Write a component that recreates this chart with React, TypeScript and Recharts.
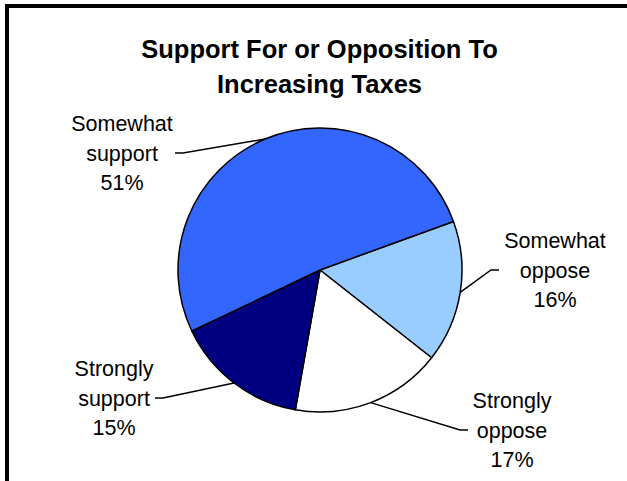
import { PieChart, Pie, Cell } from 'recharts';

const CATEGORIES = ['Somewhat oppose', 'Strongly oppose', 'Strongly support', 'Somewhat support'];
const VALUES = [16, 17, 15, 51];
const LABEL_LINES = [
  ['Somewhat', 'oppose'],
  ['Strongly', 'oppose'],
  ['Strongly', 'support'],
  ['Somewhat', 'support'],
];
const COLORS = ['#99CCFF', '#FFFFFF', '#000080', '#3366FF'];

// where each label sits (center x, middle line y) and where its leader line ends
const LABEL_POS = [
  { x: 555, y: 270, lineX: 499 },
  { x: 512, y: 430, lineX: 468 },
  { x: 114, y: 398, lineX: 155 },
  { x: 122, y: 153, lineX: 175 },
];

const FONT = '"Liberation Sans", Arial, sans-serif';
const RAD = Math.PI / 180;

const data = CATEGORIES.map((name, i) => ({ name, value: VALUES[i] }));

const renderLabel = (props: any) => {
  const { cx, cy, midAngle, outerRadius, index } = props;
  const pos = LABEL_POS[index];
  const sx = cx + outerRadius * Math.cos(-midAngle * RAD);
  const sy = cy + outerRadius * Math.sin(-midAngle * RAD);
  const dir = pos.lineX > pos.x ? 1 : -1;
  const elbowX = pos.lineX + dir * 8;
  const lines = [...LABEL_LINES[index], `${VALUES[index]}%`];
  return (
    <g key={`label-${index}`}>
      <polyline
        points={`${sx},${sy} ${elbowX},${pos.y} ${pos.lineX},${pos.y}`}
        fill="none"
        stroke="#000"
        strokeWidth={1.5}
      />
      <text textAnchor="middle" fontSize={21.5} fill="#000" fontFamily={FONT}>
        {lines.map((t, i) => (
          <tspan key={i} x={pos.x} y={pos.y + (i - 1) * 29.5} dy="0.36em">
            {t}
          </tspan>
        ))}
      </text>
    </g>
  );
};

export default function App() {
  return (
    <div
      style={{
        position: 'fixed',
        left: 0,
        top: 0,
        width: 627,
        height: 481,
        overflow: 'hidden',
        background: '#fff',
      }}
    >
      {/* chart frame, only left and top edges are visible */}
      <div
        style={{
          position: 'absolute',
          left: 5,
          top: 4,
          width: 700,
          height: 600,
          borderLeft: '4px solid #000',
          borderTop: '4px solid #000',
        }}
      />
      <div
        style={{
          position: 'absolute',
          left: 319.5,
          top: 32,
          transform: 'translateX(-50%)',
          whiteSpace: 'nowrap',
          textAlign: 'center',
          fontFamily: FONT,
          fontWeight: 'bold',
          fontSize: 25.5,
          lineHeight: '35px',
          color: '#000',
        }}
      >
        Support For or Opposition To
        <br />
        Increasing Taxes
      </div>
      <div style={{ position: 'absolute', left: 0, top: 0 }}>
        <PieChart width={627} height={481} margin={{ top: 0, right: 0, bottom: 0, left: 0 }}>
          <Pie
            data={data}
            dataKey="value"
            nameKey="name"
            cx={320}
            cy={270}
            outerRadius={142}
            startAngle={20}
            endAngle={-340}
            stroke="#000"
            strokeWidth={1.5}
            label={renderLabel}
            labelLine={false}
            isAnimationActive={false}
          >
            {data.map((d, i) => (
              <Cell key={d.name} fill={COLORS[i]} />
            ))}
          </Pie>
        </PieChart>
      </div>
    </div>
  );
}
